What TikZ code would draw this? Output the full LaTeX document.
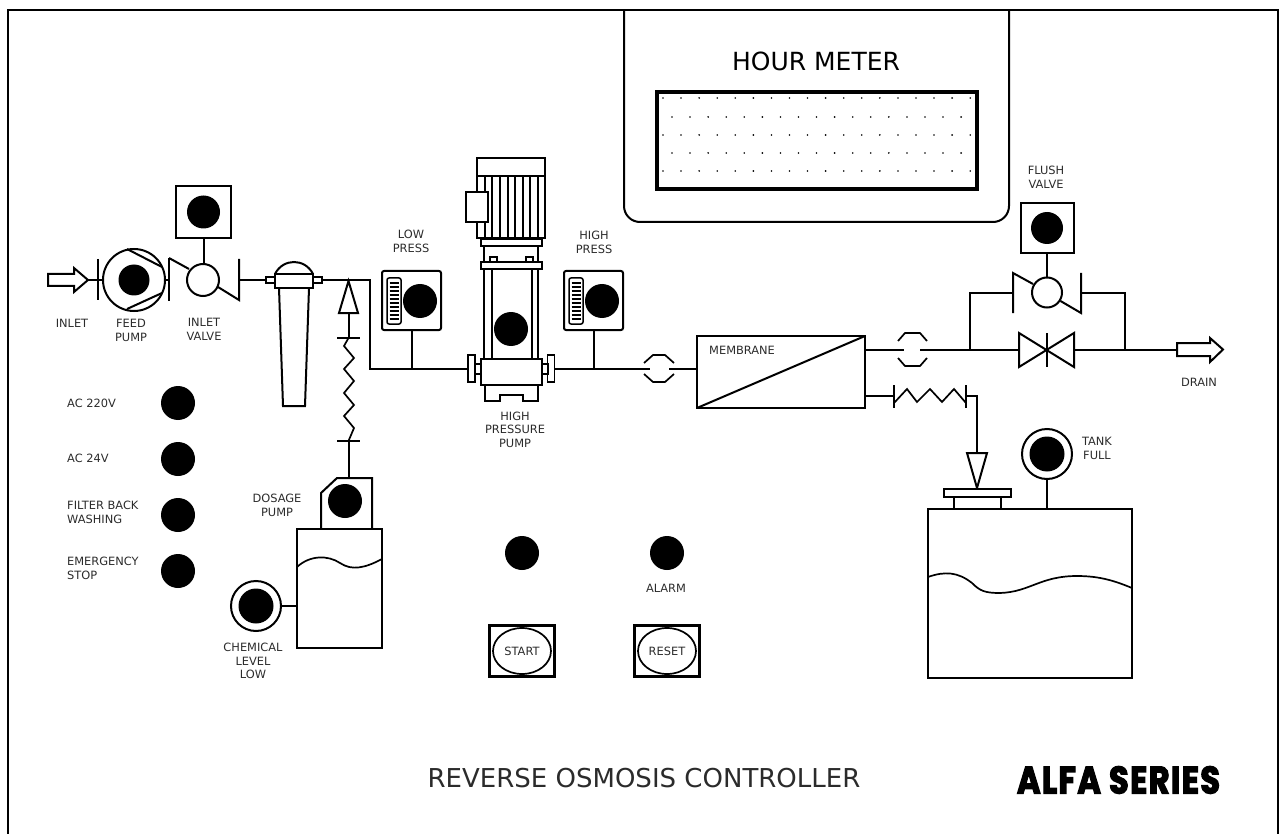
\documentclass[tikz,border=0pt]{standalone}
\usepackage{fontspec}
\setmainfont{DejaVu Sans}
\newfontfamily\alfafont[FakeBold=3.5,LetterSpace=4]{Poppins}
\usepackage{xcolor}
\usetikzlibrary{shapes.geometric, calc}
\definecolor{cLine}{HTML}{000000}
\definecolor{cLabel}{HTML}{2B2B2B}
\tikzset{
  pipe/.style={draw=cLine, line width=2pt, line join=miter},
  thinpipe/.style={draw=cLine, line width=1.7pt, line join=miter},
  partbox/.style={
    rectangle, draw=cLine, fill=white, line width=2pt,
    inner sep=0pt, outer sep=0pt,
  },
  gaugebox/.style={
    partbox, rounded corners=2pt, minimum width=59, minimum height=59,
  },
  lamp/.style={
    circle, fill=black, minimum size=#1, inner sep=0pt, outer sep=0pt,
  },
  lamp/.default=34,
  ring/.style={
    circle, draw=cLine, fill=white, line width=2pt,
    minimum size=#1, inner sep=0pt, outer sep=0pt,
  },
  lbl/.style={
    font=\fontsize{11.4}{13.5}\selectfont, text=cLabel, align=center,
    inner sep=0pt,
  },
  pushbtn/.style={
    rectangle, draw=cLine, fill=white, line width=3.4pt,
    minimum width=65, minimum height=51, inner sep=0pt, outer sep=0pt,
  },
  btnface/.style={
    ellipse, draw=cLine, line width=1.7pt, lbl,
    minimum width=58, minimum height=46,
  },
}
\begin{document}
\begin{tikzpicture}[x=1pt, y=-1pt]
  \useasboundingbox (0,0) rectangle (1282,834);

  % Panel outline
  \draw[pipe] (8,834) -- (8,10) -- (1278,10) -- (1278,834);

  % Hour meter
  \draw[pipe] (624,10) -- (624,206) arc[start angle=180, end angle=90, radius=16]
    -- (993,222) arc[start angle=90, end angle=0, radius=16] -- (1009,10);
  \node[font=\fontsize{25}{29}\selectfont, text=black, inner sep=0pt] (metertitle) at (816,61) {HOUR METER};
  \node[partbox, line width=3.6pt, minimum width=320, minimum height=97] (meter) at (817,140.5) {};
  \foreach \ry in {98,135,171}
    \foreach \i in {0,...,17}
      \fill ({663+\i*18.07},\ry) circle[radius=0.9];
  \foreach \ry in {117,153}
    \foreach \i in {0,...,16}
      \fill ({672+\i*18.07},\ry) circle[radius=0.9];

  % Inlet and feed pump
  \draw[pipe, fill=white] (48,274) -- (74,274) -- (74,268) -- (88,280) -- (74,292) -- (74,286) -- (48,286) -- cycle;
  \coordinate (inlettip) at (88,280);
  \coordinate (feedbarR) at (169,280);
  \draw[pipe] (98,259) -- (98,300);
  \draw[pipe] (169,258) -- (169,301);
  \node[ring=62] (feedpump) at (134,280) {};
  \node[lamp=31] (feedlamp) at (134,280) {};
  \draw[pipe] (127,249) -- (162,267);
  \draw[pipe] (127,309) -- (162,293);
  \draw[pipe] (inlettip) -- (feedpump.west);
  \draw[pipe] (feedpump.east) -- (feedbarR);
  \node[lbl] (inletlbl) at (72,323) {INLET};
  \node[lbl] (feedlbl) at (131,330.5) {FEED\\PUMP};

  % Inlet valve
  \node[ring=32] (inletvalve) at (203,280) {};
  \draw[pipe] (169,258) -- (189,269);
  \draw[pipe] (218,287) -- (239,300) -- (239,259);
  \node[partbox, minimum width=55, minimum height=52] (inletact) at (203.5,212) {};
  \node[lamp=33] (inletlamp) at (203.5,212) {};
  \draw[pipe] (inletact.south) -- (inletact.south |- inletvalve.north);
  \node[lbl] (valvelbl) at (204,329.5) {INLET\\VALVE};

  % Filter housing
  \draw[pipe, fill=white] (279,288) -- (283,406) -- (305,406) -- (309,288);
  \draw[pipe, fill=white] (275,274) .. controls (283,258) and (305,258) .. (313,274);
  \node[partbox, minimum width=38, minimum height=14] (filter) at (294,281) {};
  \node[partbox, line width=1.6pt, minimum width=9, minimum height=6] (filterin) at (270.5,280) {};
  \node[partbox, line width=1.6pt, minimum width=9, minimum height=6] (filterout) at (317.5,280) {};
  \coordinate (inletvalveR) at (239,280);
  \draw[pipe] (inletvalveR) -- (filterin.west);

  % Low press line into high pressure pump
  \node[partbox, line width=1.7pt, minimum width=7, minimum height=27] (flangeL) at (471.5,368.5) {};
  \node[partbox, line width=1.7pt, minimum width=7, minimum height=27] (flangeR) at (551,368.5) {};
  \draw[pipe] (filterout.east) -- (370,280) -- (370,368.5) -- (flangeL.west);

  % Dosing line
  \coordinate (doseinjtip) at (348.5,281);
  \coordinate (doseinjbase) at (348.5,313);
  \coordinate (dosebarT) at (348.5,338);
  \coordinate (dosebarB) at (348.5,441);
  \draw[pipe, fill=white] (doseinjtip) -- (358,313) -- (339,313) -- cycle;
  \draw[pipe] (dosebarT) -- (doseinjbase);
  \draw[pipe] (337,338) -- (360,338);
  \draw[pipe] (337,441) -- (360,441);
  \draw[thinpipe] (dosebarT) -- (344,346) -- (354,358) -- (344,369) -- (354,381) -- (344,393)
    -- (354,405) -- (344,416) -- (354,428) -- (dosebarB);

  % Dosage pump and chemical tank
  \draw[pipe, fill=white] (321,529) -- (321,493) -- (337,478) -- (372,478) -- (372,529);
  \coordinate (dosepumptop) at (348.5,478);
  \draw[pipe] (dosebarB) -- (dosepumptop);
  \node[lamp=34] (doselamp) at (345,501) {};
  \node[partbox, minimum width=85, minimum height=119] (chemtank) at (339.5,588.5) {};
  \draw[thinpipe] (297,567) .. controls (310,555) and (328,555) .. (340,563)
    .. controls (352,571) and (365,568) .. (382,559);
  \node[ring=50] (chemring) at (256,606) {};
  \node[lamp=35] (chemlamp) at (256,606) {};
  \draw[pipe] (chemring.east) -- (chemtank.west |- chemring.east);
  \node[lbl] (doselbl) at (277,505.5) {DOSAGE\\PUMP};
  \node[lbl] (chemlbl) at (253,661) {CHEMICAL\\LEVEL\\LOW};

  % Status lamps on the left
  \node[lamp] (lampac220) at (178,403) {};
  \node[lamp] (lampac24) at (178,459) {};
  \node[lamp] (lampfilter) at (178,515) {};
  \node[lamp] (lampstop) at (178,571) {};
  \node[lbl, anchor=west] (lblac220) at (67,403) {AC 220V};
  \node[lbl, anchor=west] (lblac24) at (67,458) {AC 24V};
  \node[lbl, anchor=west, align=left] (lblfilter) at (67,512.5) {FILTER BACK\\WASHING};
  \node[lbl, anchor=west, align=left] (lblstop) at (67,568.5) {EMERGENCY\\STOP};

  % High pressure pump
  \foreach \lx in {484,492,532,538}
    \draw[pipe] (\lx,269) -- (\lx,359);
  \foreach \lx in {484,538}
    \draw[pipe] (\lx,246) -- (\lx,262);
  \node[partbox, line width=1.6pt, minimum width=7, minimum height=6] (tabL) at (493.5,260) {};
  \node[partbox, line width=1.6pt, minimum width=7, minimum height=6] (tabR) at (529.5,260) {};
  \node[partbox, minimum width=68, minimum height=80] (motor) at (511,198) {};
  \draw[pipe] (477,176) -- (545,176);
  \foreach \lx in {485,492,500,508,515,523,530,538}
    \draw[thinpipe] (\lx,176) -- (\lx,238);
  \node[partbox, minimum width=22, minimum height=30] (termbox) at (477,207) {};
  \node[partbox, minimum width=61, minimum height=7] (collar) at (511.5,242.5) {};
  \node[partbox, minimum width=61, minimum height=7] (midflange) at (511.5,265.5) {};
  \draw[pipe] (485,385) -- (485,401) -- (500,401) -- (500,395) -- (523,395) -- (523,401) -- (538,401) -- (538,385);
  \node[partbox, minimum width=61, minimum height=26] (pumpbase) at (511.5,372) {};
  \node[lamp=34] (pumplamp) at (511,329) {};
  \foreach \n/\cx in {neckL/478, neckR/545}
    \node[partbox, line width=1.6pt, minimum width=6.5, minimum height=10] (\n) at (\cx,369) {};
  \node[lbl] (pumplbl) at (515,429.5) {HIGH\\PRESSURE\\PUMP};

  % Pressure gauges
  \node[gaugebox] (lowgauge) at (411.5,300.5) {};
  \node[gaugebox] (highgauge) at (593.5,300.5) {};
  \foreach \gx in {394,576} {
    \node[partbox, line width=1.5pt, rounded corners=2pt, minimum width=14, minimum height=46] at (\gx,301) {};
    \foreach \i in {0,...,9}
      \draw[line width=1.2pt] (\gx-4.5,{283+\i*4}) -- (\gx+4.5,{283+\i*4});
  }
  \node[lamp] (lowlamp) at (420,301) {};
  \node[lamp] (highlamp) at (602,301) {};
  \coordinate (lowtap) at (411.5,368.5);
  \coordinate (hightap) at (593.5,368.5);
  \draw[pipe] (lowgauge.south) -- (lowtap);
  \draw[pipe] (highgauge.south) -- (hightap);
  \node[lbl] (lowlbl) at (411,241.5) {LOW\\PRESS};
  \node[lbl] (highlbl) at (594,242.5) {HIGH\\PRESS};

  % Coupling and membrane
  \coordinate (couplingL) at (649.5,368.5);
  \coordinate (couplingR) at (669,368.5);
  \draw[pipe] (flangeR.east) -- (couplingL);
  \draw[thinpipe] (644,363) -- (653,355) -- (665,355) -- (674,363);
  \draw[thinpipe] (644,374) -- (653,382) -- (665,382) -- (674,374);
  \node[partbox, minimum width=168, minimum height=72] (membrane) at (781,372) {};
  \draw[pipe] (membrane.south west) -- (membrane.north east);
  \draw[pipe] (couplingR) -- (membrane.west |- couplingR);
  \node[lbl, anchor=west] (memlbl) at (709,350) {MEMBRANE};

  % Permeate line with flush bypass
  \coordinate (permout) at (865,349.5);
  \coordinate (coupling2L) at (904,349.5);
  \coordinate (coupling2R) at (920,349.5);
  \draw[pipe] (permout) -- (coupling2L);
  \draw[thinpipe] (898,341) -- (905,333) -- (920,333) -- (927,341);
  \draw[thinpipe] (898,358) -- (905,366) -- (920,366) -- (927,358);
  \draw[pipe, fill=white] (1019,333) -- (1019,367) -- (1074,333) -- (1074,367) -- cycle;
  \draw[pipe] (1047,333) -- (1047,367);
  \coordinate (bypassL) at (970,349.5);
  \coordinate (bypassR) at (1125,349.5);
  \coordinate (drainstart) at (1177,349.5);
  \draw[pipe] (coupling2R) -- (1019,349.5);
  \draw[pipe] (1074,349.5) -- (drainstart);
  \draw[pipe] (bypassL) -- (970,293) -- (1013,293);
  \draw[pipe] (bypassR) -- (1125,293) -- (1081,293);
  \draw[pipe, fill=white] (1177,343) -- (1210,343) -- (1210,338) -- (1223,349.5) -- (1210,362) -- (1210,356) -- (1177,356) -- cycle;
  \node[lbl] (drainlbl) at (1199,382) {DRAIN};

  % Flush valve
  \node[ring=30] (flushvalve) at (1047,292.5) {};
  \draw[pipe] (1013,313) -- (1013,273) -- (1033,284);
  \draw[pipe] (1060.5,301) -- (1081,313) -- (1081,273);
  \node[partbox, minimum width=53, minimum height=50] (flushact) at (1047,228) {};
  \node[lamp=32] (flushlamp) at (1047,228) {};
  \draw[pipe] (flushact.south) -- (flushvalve.north);
  \node[lbl] (flushlbl) at (1046,177.5) {FLUSH\\VALVE};

  % Reject line and product tank
  \coordinate (rejectout) at (865,396);
  \coordinate (rejectbarL) at (894,396);
  \coordinate (rejectbarR) at (966,396);
  \draw[pipe] (rejectout) -- (rejectbarL);
  \draw[pipe] (894,385) -- (894,408);
  \draw[pipe] (966,385) -- (966,408);
  \draw[thinpipe] (894,403) -- (907,389) -- (917,402) -- (930,389) -- (942,402) -- (954,389) -- (966,403);
  \coordinate (tanktop) at (977,453);
  \draw[pipe] (rejectbarR) -- (977,396) -- (tanktop);
  \draw[pipe, fill=white] (967,453) -- (987,453) -- (977,488) -- cycle;
  \node[partbox, minimum width=47, minimum height=12] (tankneck) at (977.5,503) {};
  \node[partbox, minimum width=67, minimum height=8] (tanklid) at (977.5,493) {};
  \node[partbox, minimum width=204, minimum height=169] (prodtank) at (1030,593.5) {};
  \draw[thinpipe] (928,577) .. controls (945,571) and (958,572) .. (972,583)
    .. controls (980,591) and (985,593) .. (1000,593) .. controls (1030,592) and (1040,576) .. (1077,576)
    .. controls (1100,576) and (1115,581) .. (1132,588);
  \node[ring=50] (tankring) at (1047,454) {};
  \node[lamp=35] (tanklamp) at (1047,454) {};
  \draw[pipe] (tankring.south) -- (tankring.south |- prodtank.north);
  \node[lbl] (tanklbl) at (1097,448.5) {TANK\\FULL};

  % Start and reset
  \node[lamp] (startlamp) at (522,553) {};
  \node[lamp] (alarmlamp) at (667,553) {};
  \node[lbl] (alarmlbl) at (666,588) {ALARM};
  \node[pushbtn] (startbtn) at (522,651) {};
  \node[btnface] (startface) at (522,651) {START};
  \node[pushbtn] (resetbtn) at (667,651) {};
  \node[btnface] (resetface) at (667,651) {RESET};

  % Titles
  \node[font=\fontsize{26}{30}\selectfont, text=cLabel, inner sep=0pt] (paneltitle) at (644,778) {REVERSE OSMOSIS CONTROLLER};
  \node[font=\alfafont\bfseries\fontsize{30}{34}\selectfont, text=black, inner sep=0pt] (serieslbl) at (1118.5,780) {\scalebox{1.07}[1.27]{ALFA SERIES}};
\end{tikzpicture}
\end{document}
